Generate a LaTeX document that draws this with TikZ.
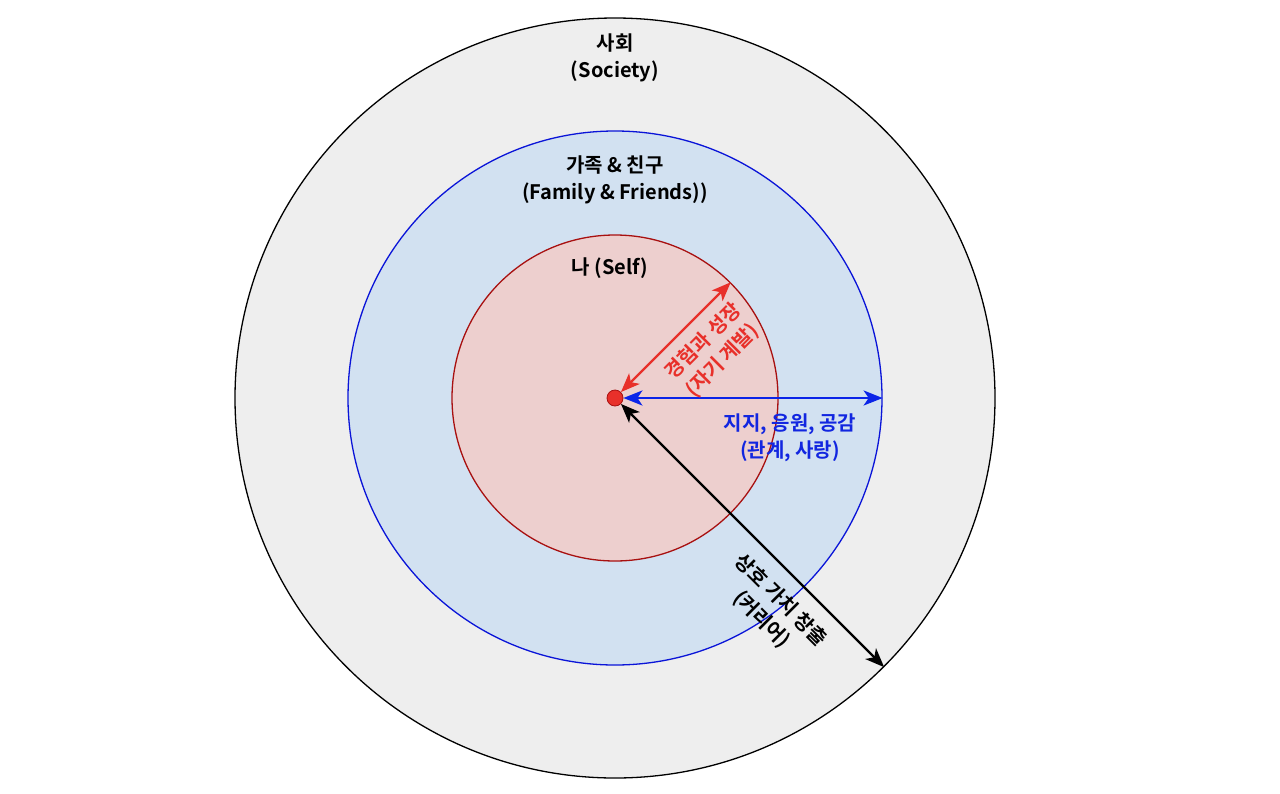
\documentclass[tikz,border=0pt]{standalone}
\usepackage{fontspec}
\setmainfont{Noto Sans CJK KR}[BoldFont={Noto Sans CJK KR Bold}]
\usetikzlibrary{arrows.meta}
\definecolor{outerfill}{HTML}{EEEEEE}
\definecolor{bluefill}{HTML}{D2E1F1}
\definecolor{bluestroke}{HTML}{0A14D8}
\definecolor{redfill}{HTML}{EDCFCE}
\definecolor{redstroke}{HTML}{A81010}
\definecolor{arrowred}{HTML}{E8302A}
\definecolor{arrowblue}{HTML}{0B24E8}
\definecolor{textblue}{HTML}{1226E0}
\tikzset{
  ring/.style={circle, inner sep=0pt, line width=1.3pt},
  lbl/.style={font=\fontsize{20}{27}\selectfont\bfseries, align=center, inner sep=0pt},
  dbl/.style={{Stealth[length=19pt,width=15pt,inset=5pt]}-{Stealth[length=19pt,width=15pt,inset=5pt]}, line width=2.4pt},
}
\begin{document}
\begin{tikzpicture}[x=1pt,y=-1pt]
\useasboundingbox (0,0) rectangle (1280,793);
\node[ring, draw=black, fill=outerfill, minimum size=760pt] (outer) at (615,398) {};
\node[ring, draw=bluestroke, fill=bluefill, minimum size=534pt] (blue) at (615,398) {};
\node[ring, draw=redstroke, fill=redfill, minimum size=326pt] (red) at (615,398) {};
\node[circle, inner sep=0pt, minimum size=16pt, fill=arrowred, draw=redstroke, line width=0.8pt] (dot) at (615,398) {};

\node[lbl] (society) at (615,58) {사회\\(Society)};
\node[lbl] (family) at (615,180) {가족 \& 친구\\(Family \& Friends))};
\node[lbl] (self) at (610,268) {나 (Self)};

\draw[dbl, arrowred] (dot) -- (red.45);
\draw[dbl, arrowblue] (dot) -- (blue.east);
\draw[dbl, black] (dot) -- (outer.-45);

\node[lbl, text=arrowred, rotate=45] (growth) at (713,351) {경험과 성장\\(자기 계발)};
\node[lbl, text=textblue] (support) at (790,438) {지지, 응원, 공감\\(관계, 사랑)};
\node[lbl, text=black, rotate=-45] (career) at (771,610) {상호 가치 창출\\(커리어)};
\end{tikzpicture}
\end{document}
